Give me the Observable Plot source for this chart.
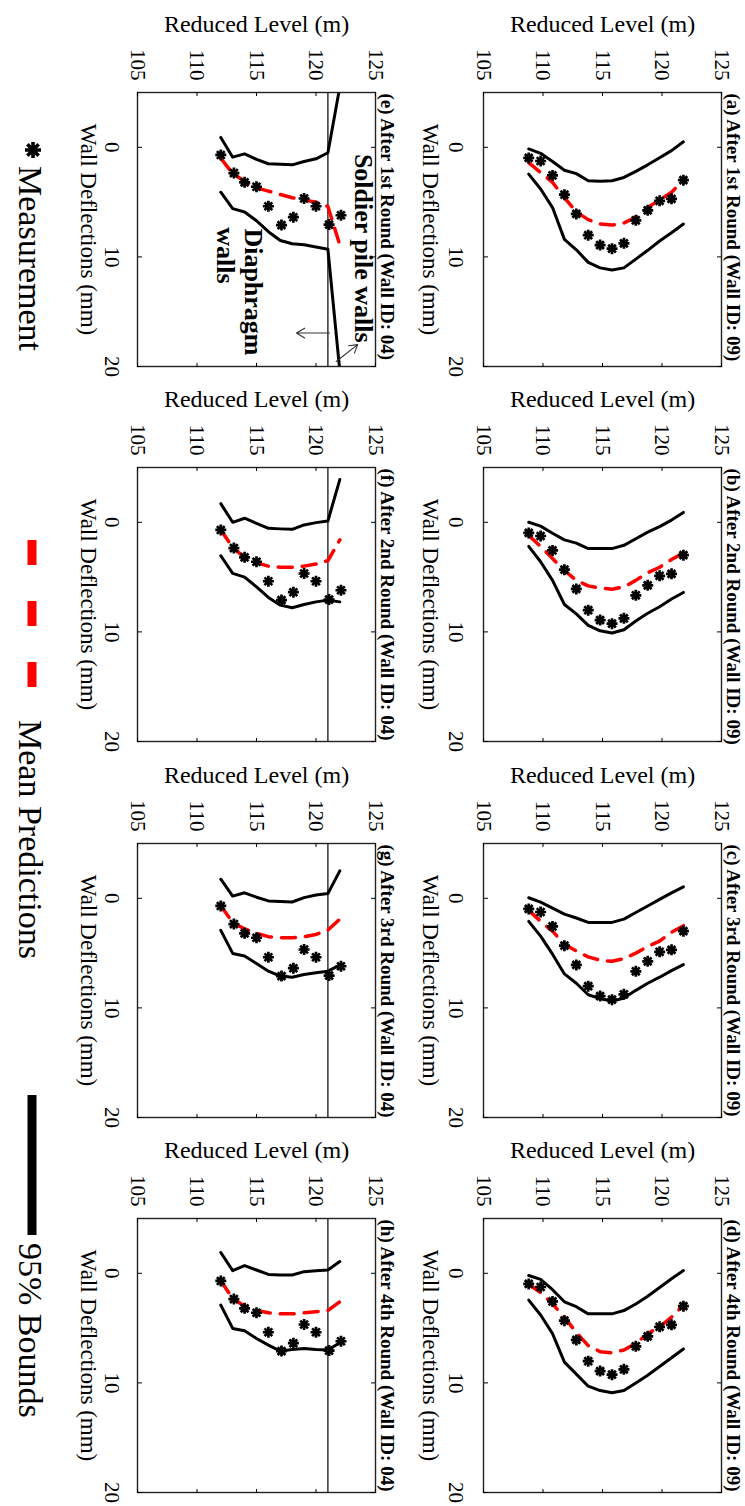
<!DOCTYPE html>
<html><head><meta charset="utf-8">
<script src="https://cdn.jsdelivr.net/npm/d3@7"></script>
<script src="https://cdn.jsdelivr.net/npm/@observablehq/plot@0.6"></script>
<style>
html,body{margin:0;padding:0;background:#fff;}
#page{position:relative;width:745px;height:1506px;overflow:hidden;background:#fff;}
#fig{position:absolute;left:0;top:0;width:1506px;height:745px;transform-origin:0 0;transform:translate(745px,0) rotate(90deg);font-family:"Liberation Serif","Times New Roman",serif;}
.panel{position:absolute;width:375px;height:346px;}
#legend{position:absolute;left:0;top:692px;width:1506px;height:53px;}
</style></head><body>
<div id="page"><div id="fig"></div></div>
<script>
// ---------- data (Wall ID 09: panels a-d) ----------
const rl09 = [108.8,109.8,110.8,111.8,112.8,113.8,114.8,115.8,116.8,117.8,118.8,119.8,120.8,121.8];
const meas09 = [0.97,1.25,2.57,4.32,6.08,8.02,8.92,9.25,8.76,6.66,5.75,4.88,4.70,3.00];
const mean_a  = [1.4,2.3,3.2,4.6,5.9,6.6,7.0,7.1,6.9,6.4,5.5,4.8,4.1,3.0];
const upper_a = [0.15,0.55,1.3,2.1,2.4,3.05,3.1,3.05,2.75,2.2,1.6,0.95,0.3,-0.5];
const lower_a = [2.45,3.8,5.5,8.4,9.35,10.5,11.0,11.2,11.0,10.2,9.4,8.55,7.8,7.0];
const mean_b  = [1.2,2.2,3.3,4.4,5.3,5.8,6.0,6.1,5.9,5.3,4.6,4.1,3.4,2.8];
const upper_b = [0.0,0.35,1.0,1.6,1.9,2.4,2.4,2.4,2.1,1.5,0.9,0.4,-0.2,-0.9];
const lower_b = [2.2,3.6,5.3,7.5,8.35,9.4,9.9,10.1,9.8,9.0,8.3,7.7,7.0,6.4];
const mean_c  = [1.1,2.1,3.0,4.2,4.8,5.35,5.65,5.75,5.5,5.0,4.4,3.9,3.1,2.5];
const upper_c = [-0.05,0.35,0.9,1.45,1.8,2.2,2.2,2.2,1.9,1.3,0.7,0.1,-0.5,-1.05];
const lower_c = [2.1,3.45,5.1,6.9,7.75,8.8,9.15,9.4,9.1,8.4,7.75,7.2,6.6,6.05];
const mean_d  = [1.0,1.75,2.8,4.0,5.4,6.6,7.15,7.25,7.0,6.4,5.5,4.9,4.0,2.9];
const upper_d = [0.2,0.55,1.5,2.6,3.05,3.7,3.7,3.7,3.4,2.8,2.1,1.3,0.5,-0.25];
const lower_d = [2.45,3.8,5.5,8.1,9.2,10.3,10.7,10.9,10.7,10.0,9.3,8.5,7.7,6.9];

// ---------- data (Wall ID 04: panels e-h) ----------
const rl04 = [112,113,114,115,116,117,118,119,120,121,122];
const rlMeas04 = [112,113.1,114,115,116,117.1,118.1,119,120,121.1,122.1];
const meas04 = [0.7,2.35,3.2,3.6,5.38,7.1,6.38,4.67,5.38,7.05,6.2];
const mean_e  = [1.0,2.4,3.1,3.7,4.0,4.3,4.6,4.8,5.0,5.4,8.9];
const upper_e = [-0.9,0.9,0.6,1.1,1.5,1.55,1.6,1.3,1.05,0.5,-5.5];
const lower_e = [4.1,5.6,5.9,6.7,7.7,8.5,8.8,8.9,9.1,9.3,20.4];
const mean_f  = [0.7,2.3,3.2,3.7,4.0,4.1,4.1,4.0,3.8,3.5,1.6];
const upper_f = [-1.7,0.0,-0.37,0.1,0.55,0.6,0.64,0.24,0.03,-0.12,-3.9];
const lower_f = [3.05,4.66,5.0,5.9,6.86,7.56,7.8,7.5,7.26,7.1,7.26];
const mean_g  = [0.7,2.2,2.8,3.2,3.5,3.6,3.6,3.5,3.3,2.9,1.9];
const upper_g = [-1.74,-0.2,-0.5,-0.1,0.24,0.3,0.34,-0.06,-0.3,-0.43,-2.5];
const lower_g = [2.93,5.03,5.27,5.95,6.65,7.1,7.2,6.95,6.8,6.65,6.1];
const mean_h  = [0.7,2.3,3.0,3.4,3.6,3.7,3.7,3.6,3.5,3.4,2.6];
const upper_h = [-1.9,-0.24,-0.7,-0.3,0.1,0.15,0.15,-0.15,-0.24,-0.3,-1.07];
const lower_h = [2.9,5.03,5.24,5.95,6.55,7.1,6.95,6.86,6.95,7.0,6.34];

const boundaryRL = [121];
const xTicks = [0,10,20];
const yTicks = [105,110,115,120,125];
const xDomain = [-5,20];
const yDomain = [105,125];
const xLabel = "Wall Deflections (mm)";
const yLabel = "Reduced Level (m)";

// annotations in panel (e), data coordinates
const notesE = [
  {text:"Soldier pile walls", d:0.6, rl:123.3},
  {text:"Diaphragm", d:7.4, rl:114.0},
  {text:"walls", d:7.3, rl:111.7}
];
const arrowsE = [
  {d1:16.95, rl1:121.13, d2:16.95, rl2:118.36},
  {d1:19.54, rl1:121.7, d2:18.0, rl2:123.5}
];

const legendItems = ["Measurement","Mean Predictions","95% Bounds"];

const panels = [
  {title:"(a) After 1st Round (Wall ID: 09)", rl:rl09, rlM:rl09, meas:meas09, mean:mean_a, upper:upper_a, lower:lower_a, row:0, col:0},
  {title:"(b) After 2nd Round (Wall ID: 09)", rl:rl09, rlM:rl09, meas:meas09, mean:mean_b, upper:upper_b, lower:lower_b, row:0, col:1},
  {title:"(c) After 3rd Round (Wall ID: 09)", rl:rl09, rlM:rl09, meas:meas09, mean:mean_c, upper:upper_c, lower:lower_c, row:0, col:2},
  {title:"(d) After 4th Round (Wall ID: 09)", rl:rl09, rlM:rl09, meas:meas09, mean:mean_d, upper:upper_d, lower:lower_d, row:0, col:3},
  {title:"(e) After 1st Round (Wall ID: 04)", rl:rl04, rlM:rlMeas04, meas:meas04, mean:mean_e, upper:upper_e, lower:lower_e, row:1, col:0, notes:true},
  {title:"(f) After 2nd Round (Wall ID: 04)", rl:rl04, rlM:rlMeas04, meas:meas04, mean:mean_f, upper:upper_f, lower:lower_f, row:1, col:1},
  {title:"(g) After 3rd Round (Wall ID: 04)", rl:rl04, rlM:rlMeas04, meas:meas04, mean:mean_g, upper:upper_g, lower:lower_g, row:1, col:2},
  {title:"(h) After 4th Round (Wall ID: 04)", rl:rl04, rlM:rlMeas04, meas:meas04, mean:mean_h, upper:upper_h, lower:lower_h, row:1, col:3}
];

// 8-armed asterisk like MATLAB '*'
const asterisk8 = {
  draw(context, size) {
    const r = Math.sqrt(size / Math.PI);
    for (let k = 0; k < 4; k++) {
      const a = k * Math.PI / 4, dx = r * Math.cos(a), dy = r * Math.sin(a);
      context.moveTo(-dx, -dy); context.lineTo(dx, dy);
    }
  }
};

const FONT = '"Liberation Serif","Times New Roman",serif';
const zip = (rl, v) => rl.map((r, i) => ({rl: r, d: v[i]}));
const fig = document.getElementById("fig");

for (const p of panels) {
  const tickPad = p.row === 0 ? 20 : 18;
  const xlabDy = p.row === 0 ? 61 : 57;
  const marks = [];
  if (p.rl === rl04) marks.push(Plot.ruleY(boundaryRL, {stroke:"black", strokeWidth:1.2}));
  marks.push(
    Plot.line(zip(p.rl, p.upper), {x:"d", y:"rl", stroke:"black", strokeWidth:3, clip:true}),
    Plot.line(zip(p.rl, p.lower), {x:"d", y:"rl", stroke:"black", strokeWidth:3, clip:true}),
    Plot.line(zip(p.rl, p.mean), {x:"d", y:"rl", stroke:"#ff0000", strokeWidth:3.5, strokeDasharray:"14,10", clip:true}),
    Plot.dot(zip(p.rlM, p.meas), {x:"d", y:"rl", symbol:asterisk8, r:5.5, fill:"none", stroke:"black", strokeWidth:2.7})
  );
  if (p.notes) {
    marks.push(
      Plot.text(notesE, {x:"d", y:"rl", text:"text", textAnchor:"start", lineAnchor:"bottom", fontWeight:"bold", fontSize:26}),
      Plot.arrow(arrowsE, {x1:"d1", y1:"rl1", x2:"d2", y2:"rl2", stroke:"#333", strokeWidth:1.1, headLength:13, headAngle:62})
    );
  }
  marks.push(
    Plot.frame({stroke:"#222", strokeWidth:1.4}),
    Plot.axisY(yTicks, {tickSize:0, tickPadding:12, fontSize:21, label:null}),
    Plot.axisY(yTicks, {tickSize:4, dx:4, tickFormat:() => "", label:null}),
    Plot.axisY(yTicks, {anchor:"right", tickSize:4, dx:-4, tickFormat:() => "", label:null}),
    Plot.axisX(xTicks, {tickSize:0, tickPadding:tickPad, fontSize:21, label:null}),
    Plot.axisX(xTicks, {tickSize:4, dy:-4, tickFormat:() => "", label:null}),
    Plot.axisX(xTicks, {anchor:"top", tickSize:4, dy:4, tickFormat:() => "", label:null}),
    Plot.text([xLabel], {text:d => d, frameAnchor:"bottom", dy:xlabDy, lineAnchor:"bottom", textAnchor:"middle", fontSize:23}),
    Plot.text([yLabel], {text:d => d, frameAnchor:"left", dx:-61, rotate:-90, lineAnchor:"bottom", textAnchor:"middle", fontSize:24}),
    Plot.text([p.title], {text:d => d, frameAnchor:"top-left", dx:1, dy:-5, lineAnchor:"bottom", textAnchor:"start", fontWeight:"bold", fontSize:19})
  );
  const svg = Plot.plot({
    width:375, height:346,
    marginLeft:92, marginRight:9, marginTop:23, marginBottom:85,
    x:{domain:xDomain},
    y:{domain:yDomain},
    style:{fontFamily:FONT, fontSize:"21px", color:"black", background:"transparent", overflow:"visible", maxWidth:"none"},
    marks
  });
  const div = document.createElement("div");
  div.className = "panel";
  div.style.left = (p.col * 375.33) + "px";
  div.style.top = (p.row * 346) + "px";
  div.appendChild(svg);
  fig.appendChild(div);
}

// legend (below the panels in the unrotated figure)
const ns = "http://www.w3.org/2000/svg";
const lg = document.createElementNS(ns, "svg");
lg.setAttribute("width", 1506); lg.setAttribute("height", 53);
lg.setAttribute("id", "legend");
lg.style.fontFamily = FONT;
const mk = d3.symbol(asterisk8, Math.PI * 8 * 8)();
lg.innerHTML = `
  <path d="${mk}" transform="translate(150,20)" fill="none" stroke="black" stroke-width="3.6"/>
  <text x="166" y="34" font-size="34">${legendItems[0]}</text>
  <line x1="540" x2="690" y1="21" y2="21" stroke="#ff0000" stroke-width="9" stroke-dasharray="25,36"/>
  <text x="720" y="34" font-size="34">${legendItems[1]}</text>
  <line x1="1095" x2="1235" y1="21" y2="21" stroke="black" stroke-width="9"/>
  <text x="1243" y="34" font-size="34">${legendItems[2]}</text>`;
fig.appendChild(lg);
</script>
</body></html>
